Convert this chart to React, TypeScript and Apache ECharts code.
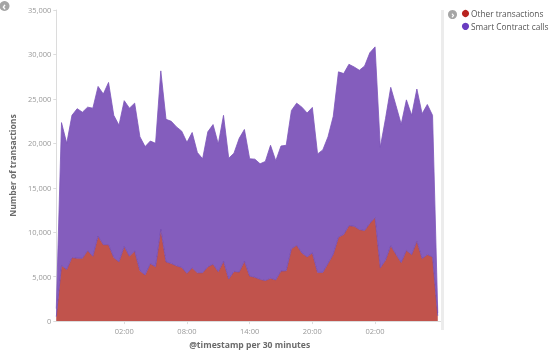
import React, { useEffect, useRef } from "react";
import * as echarts from "echarts";

const categories: string[] = [
  "D1 19:30", "D1 20:00", "D1 20:30", "D1 21:00", "D1 21:30", "D1 22:00", "D1 22:30", "D1 23:00", "D1 23:30",
  "D2 00:00", "D2 00:30", "D2 01:00", "D2 01:30", "D2 02:00", "D2 02:30", "D2 03:00", "D2 03:30",
  "D2 04:00", "D2 04:30", "D2 05:00", "D2 05:30", "D2 06:00", "D2 06:30", "D2 07:00", "D2 07:30",
  "D2 08:00", "D2 08:30", "D2 09:00", "D2 09:30", "D2 10:00", "D2 10:30", "D2 11:00", "D2 11:30",
  "D2 12:00", "D2 12:30", "D2 13:00", "D2 13:30", "D2 14:00", "D2 14:30", "D2 15:00", "D2 15:30",
  "D2 16:00", "D2 16:30", "D2 17:00", "D2 17:30", "D2 18:00", "D2 18:30", "D2 19:00", "D2 19:30",
  "D2 20:00", "D2 20:30", "D2 21:00", "D2 21:30", "D2 22:00", "D2 22:30", "D2 23:00", "D2 23:30",
  "D3 00:00", "D3 00:30", "D3 01:00", "D3 01:30", "D3 02:00", "D3 02:30", "D3 03:00", "D3 03:30",
  "D3 04:00", "D3 04:30", "D3 05:00", "D3 05:30", "D3 06:00", "D3 06:30", "D3 07:00", "D3 07:30",
  "D3 08:00", "D3 08:30",
];

const tickCategories: string[] = ["D2 02:00", "D2 08:00", "D2 14:00", "D2 20:00", "D3 02:00"];

const seriesNames: string[] = ["Other transactions", "Smart Contract calls"];

const otherTransactions: number[] = [
  500, 6260, 5800, 7150, 7070, 7070, 7930, 7300, 9560, 8600,
  8600, 7150, 6670, 8400, 7300, 7890, 5670, 5190, 6480, 6110,
  10330, 6670, 6480, 6220, 6040, 5370, 6000, 5440, 5440, 6110,
  6410, 5560, 6740, 4740, 5590, 5520, 6740, 5070, 4930, 4700,
  4560, 4810, 4630, 5630, 5670, 8150, 8520, 7670, 7220, 7670,
  5480, 5480, 6480, 7520, 9440, 9740, 10740, 10670, 10300, 10190,
  11000, 11670, 6000, 6850, 8480, 7520, 6590, 7960, 7480, 9000,
  7040, 7480, 7220, 600,
];

const smartContractCalls: number[] = [
  900, 16070, 14200, 16000, 16830, 16430, 16140, 16660, 16840, 16950,
  18250, 16000, 15370, 16400, 16660, 16630, 15070, 14440, 13780, 13890,
  17820, 16030, 16000, 15630, 15330, 14740, 15220, 13520, 12820, 15190,
  15700, 14370, 16410, 13590, 13300, 15040, 14820, 13190, 13290, 13000,
  13400, 14970, 13410, 14070, 14110, 15550, 16000, 16400, 16190, 16370,
  13330, 13780, 14260, 15520, 18600, 18110, 18150, 17920, 17920, 18510,
  19190, 19180, 13560, 15930, 17820, 16740, 15560, 16930, 15670, 17110,
  16290, 16890, 15930, 300,
];

const FONT = "'Open Sans', 'Noto Sans', sans-serif";
const LEGEND_COLORS = ["#b8231f", "#6a3dc0"];

export default function App() {
  const ref = useRef<HTMLDivElement>(null);
  useEffect(() => {
    if (!ref.current) return;
    const chart = echarts.init(ref.current, null, { renderer: "svg" });
    const showTick = (idx: number) => tickCategories.includes(categories[idx]);
    const legendItems: any[] = [];
    seriesNames.forEach((name, i) => {
      const cy = 13.5 + i * 12.8;
      legendItems.push({ type: "circle", shape: { cx: 465.5, cy, r: 3.6 }, style: { fill: LEGEND_COLORS[i] } });
      legendItems.push({
        type: "text",
        x: 471,
        y: cy,
        style: { text: name, fill: "#555", fontSize: 8.3, fontFamily: FONT, verticalAlign: "middle", align: "left" },
      });
    });
    chart.setOption({
      animation: false,
      textStyle: { fontFamily: FONT },
      grid: { left: 55, right: 113, top: 10, bottom: 29, containLabel: false },
      xAxis: {
        type: "category",
        data: categories,
        boundaryGap: false,
        name: "@timestamp per 30 minutes",
        nameLocation: "middle",
        nameGap: 15,
        nameTextStyle: { fontSize: 8.6, fontWeight: "bold", color: "#6a6a6a", fontFamily: FONT },
        axisLine: { lineStyle: { color: "#dcdcdc", width: 1 } },
        axisTick: { interval: (idx: number) => showTick(idx), length: 3, lineStyle: { color: "#dcdcdc" } },
        axisLabel: {
          interval: (idx: number) => showTick(idx),
          formatter: (v: string) => v.slice(-5),
          fontSize: 7.5,
          color: "#999",
          margin: 6,
          fontFamily: FONT,
        },
        splitLine: { show: false },
      },
      yAxis: {
        type: "value",
        min: 0,
        max: 35000,
        interval: 5000,
        name: "Number of transactions",
        nameLocation: "middle",
        nameRotate: 90,
        nameGap: 38,
        nameTextStyle: { fontSize: 8.6, fontWeight: "bold", color: "#6a6a6a", fontFamily: FONT },
        axisLine: { show: true, lineStyle: { color: "#dcdcdc", width: 1 } },
        axisTick: { show: true, length: 3, lineStyle: { color: "#dcdcdc" } },
        axisLabel: {
          fontSize: 7.5,
          color: "#999",
          margin: 5,
          fontFamily: FONT,
          formatter: (v: number) => v.toLocaleString("en-US"),
        },
        splitLine: { show: false },
      },
      series: [
        {
          name: seriesNames[0],
          type: "line",
          stack: "total",
          data: otherTransactions,
          showSymbol: false,
          symbol: "none",
          z: 3,
          itemStyle: { color: LEGEND_COLORS[0] },
          lineStyle: { color: "#7048b2", width: 0.8 },
          areaStyle: { color: "#c1534c", opacity: 1 },
        },
        {
          name: seriesNames[1],
          type: "line",
          stack: "total",
          data: smartContractCalls,
          showSymbol: false,
          symbol: "none",
          z: 2,
          itemStyle: { color: LEGEND_COLORS[1] },
          lineStyle: { color: "#7c55ba", width: 0.8 },
          areaStyle: { color: "#845dbd", opacity: 1 },
        },
      ],
      graphic: [
        { type: "rect", shape: { x: 441, y: 10, width: 3, height: 320 }, style: { fill: "#ececec" }, z: 1 },
        { type: "circle", shape: { cx: 4.5, cy: 6, r: 5 }, style: { fill: "#a5a5a5" } },
        { type: "text", x: 4.2, y: 6, style: { text: "‹", fill: "#fff", fontSize: 10, fontWeight: "bold", align: "center", verticalAlign: "middle", fontFamily: FONT } },
        { type: "circle", shape: { cx: 452.5, cy: 14.5, r: 4.5 }, style: { fill: "#a5a5a5" } },
        { type: "text", x: 452.8, y: 14.5, style: { text: "›", fill: "#fff", fontSize: 9, fontWeight: "bold", align: "center", verticalAlign: "middle", fontFamily: FONT } },
        ...legendItems,
      ],
    });
    return () => chart.dispose();
  }, []);
  return <div ref={ref} style={{ position: "fixed", left: 0, top: 0, width: 556, height: 354 }} />;
}
